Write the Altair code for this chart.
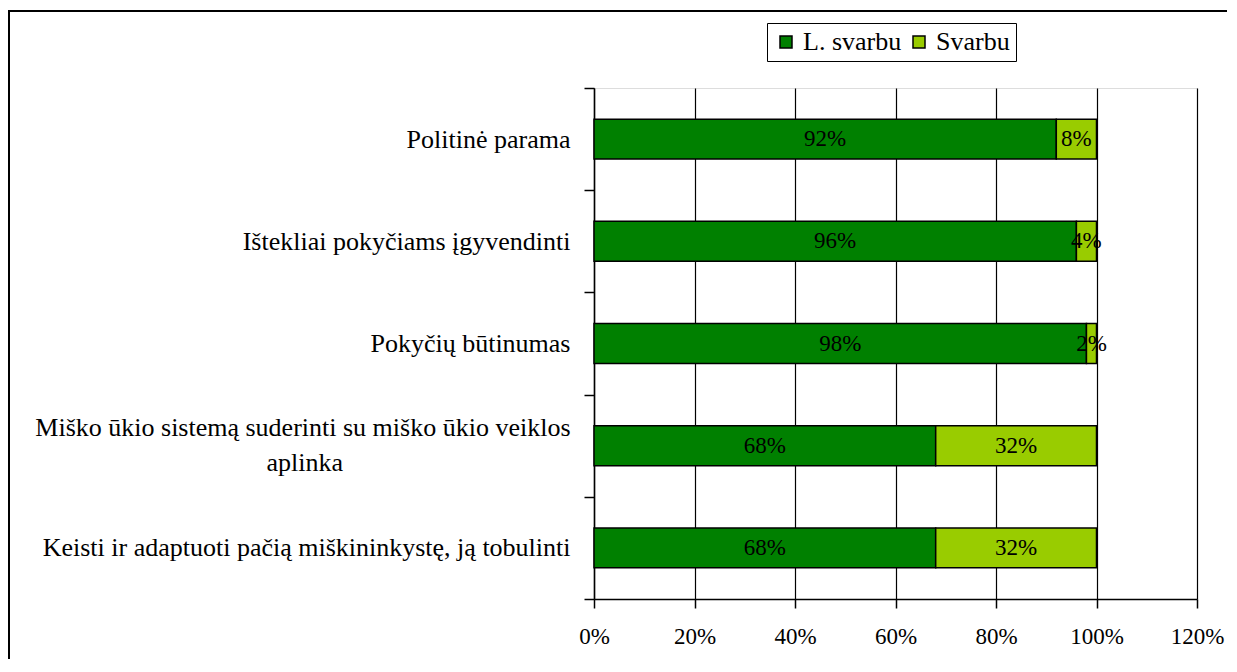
import altair as alt
import pandas as pd

categories = [
    "Politinė parama",
    "Ištekliai pokyčiams įgyvendinti",
    "Pokyčių būtinumas",
    "Miško ūkio sistemą suderinti su miško ūkio veiklos aplinka",
    "Keisti ir adaptuoti pačią miškininkystę, ją tobulinti",
]
series = ["L. svarbu", "Svarbu"]
l_svarbu = [0.92, 0.96, 0.98, 0.68, 0.68]
svarbu = [0.08, 0.04, 0.02, 0.32, 0.32]
x_ticks = [0, 0.2, 0.4, 0.6, 0.8, 1.0, 1.2]
colors = ["#008000", "#99CC00"]

rows = []
for c, a, b in zip(categories, l_svarbu, svarbu):
    rows.append({"cat": c, "series": series[0], "order": 0, "value": a})
    rows.append({"cat": c, "series": series[1], "order": 1, "value": b})
df = pd.DataFrame(rows)

FONT = "Liberation Serif"
FS_CAT = 26
FS_NUM = 23

long_cat = categories[3]
line1 = "Miško ūkio sistemą suderinti su miško ūkio veiklos"
line2 = "aplinka" + "\u00a0" * 35 + "\u2060"
label_expr = f"datum.label == '{long_cat}' ? ['{line1}', '{line2}'] : datum.label"
long_test = f"datum.label == '{long_cat}'"

base = alt.Chart(df).transform_stack(
    stack="value", as_=["x0", "x1"], groupby=["cat"], sort=[alt.SortField("order")]
).transform_calculate(mid="(datum.x0 + datum.x1) / 2")

yenc = alt.Y(
    "cat:N",
    sort=categories,
    title=None,
    scale=alt.Scale(padding=0),
    axis=alt.Axis(
        tickBand="extent",
        labelAlign="right",
        labelPadding=14,
        labelOffset={"condition": {"test": long_test, "value": -18}, "value": 0},
        tickSize=10,
        tickColor="black",
        tickWidth=1.5,
        domainColor="black",
        domainWidth=1.5,
        labelFont=FONT,
        labelFontSize=FS_CAT,
        labelColor="black",
        labelLimit=800,
        labelExpr=label_expr,
        labelLineHeight=35,
        grid=False,
    ),
)

bars = base.mark_bar(stroke="black", strokeWidth=1.5, height={"band": 0.39}).encode(
    x=alt.X(
        "x0:Q",
        title=None,
        scale=alt.Scale(domain=[0, 1.2], nice=False),
        axis=alt.Axis(
            values=x_ticks,
            format=".0%",
            grid=True,
            gridColor="black",
            gridWidth=1.2,
            gridOpacity=1,
            tickSize=9,
            tickColor="black",
            tickWidth=1.5,
            domainColor="black",
            domainWidth=1.5,
            labelFont=FONT,
            labelFontSize=FS_NUM,
            labelColor="black",
            labelPadding=17,
            labelFlush=False,
        ),
    ),
    x2="x1:Q",
    y=yenc,
    color=alt.Color(
        "series:N",
        sort=series,
        scale=alt.Scale(domain=series, range=colors),
        legend=alt.Legend(
            title=None,
            orient="none",
            legendX=173,
            legendY=-65,
            direction="horizontal",
            symbolType="square",
            symbolSize=144,
            symbolStrokeColor="black",
            symbolStrokeWidth=1.5,
            labelFont=FONT,
            labelFontSize=FS_CAT,
            labelColor="black",
            labelOffset=4,
            columnPadding=4,
            padding=6,
            strokeColor="black",
        ),
    ),
)

texts = base.mark_text(font=FONT, fontSize=FS_NUM, color="black", align="center", baseline="middle").encode(
    x=alt.X("mid:Q"),
    y=alt.Y("cat:N", sort=categories),
    text=alt.Text("value:Q", format=".0%"),
)

border = alt.Chart(pd.DataFrame({"a": [0]})).mark_rect(
    fillOpacity=0, stroke="black", strokeWidth=2
).encode(
    x=alt.value(-585), x2=alt.value(700), y=alt.value(-77), y2=alt.value(700)
)

chart = alt.layer(bars, texts, border).properties(
    width=603,
    height=511,
    autosize=alt.AutoSizeParams(type="none"),
    padding={"left": 586, "top": 80, "right": 30, "bottom": 60},
).configure_view(stroke=None).configure(background="white")

chart.save("out.html", embed_options={"renderer": "svg", "actions": False})
